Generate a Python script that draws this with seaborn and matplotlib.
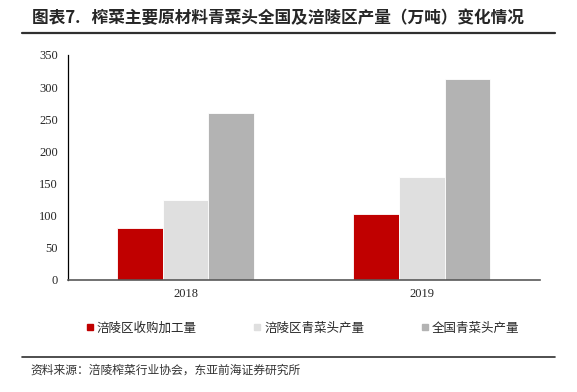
import pandas as pd
import matplotlib
matplotlib.use("Agg")
import matplotlib.pyplot as plt
import seaborn as sns
from matplotlib.lines import Line2D

years = ["2018", "2019"]
series_names = ["涪陵区收购加工量", "涪陵区青菜头产量", "全国青菜头产量"]
fuling_processed = [80, 102]
fuling_output = [124, 160]
national_output = [259, 312]
colors = ["#C00000", "#DFDFDF", "#B3B3B3"]
yticks = [0, 50, 100, 150, 200, 250, 300, 350]

title = "图表7.   榨菜主要原材料青菜头全国及涪陵区产量（万吨）变化情况"
source = "资料来源：涪陵榨菜行业协会，东亚前海证券研究所"

rows = []
for vals, name in zip([fuling_processed, fuling_output, national_output], series_names):
    for yr, v in zip(years, vals):
        rows.append({"year": yr, "series": name, "value": v})
df = pd.DataFrame(rows)

sns.set_style("white")
plt.rcParams["font.family"] = ["Noto Sans CJK SC", "DejaVu Sans"]

fig = plt.figure(figsize=(5.77, 3.92), dpi=100)
ax = fig.add_axes([0.117, 0.286, 0.819, 0.574])

sns.barplot(data=df, x="year", y="value", hue="series", palette=colors,
            saturation=1, width=0.58, edgecolor="white", linewidth=0.6,
            ax=ax, legend=False)

ax.set_ylim(0, 350)
ax.set_xlim(-0.5, 1.5)
ax.set_yticks(yticks)
ax.set_xlabel("")
ax.set_ylabel("")
for lab in ax.get_xticklabels() + ax.get_yticklabels():
    lab.set_family(["Liberation Serif"])
    lab.set_fontsize(9)
ax.tick_params(axis="y", direction="out", length=3, width=0.8, color="black", pad=4)
ax.tick_params(axis="x", length=0, pad=6)
ax.set_xticks([0.5], minor=True)
ax.tick_params(axis="x", which="minor", direction="in", length=3, width=0.8, color="#404040")
sns.despine(ax=ax, top=True, right=True)
ax.spines["left"].set_color("black")
ax.spines["left"].set_linewidth(0.9)
ax.spines["bottom"].set_color("#595959")
ax.spines["bottom"].set_linewidth(1.2)

# legend
handles = [Line2D([], [], marker="s", linestyle="", markersize=5,
                  markerfacecolor=c, markeredgecolor=c) for c in colors]
fig.legend(handles, series_names, loc="center", bbox_to_anchor=(0.525, 0.163),
           ncol=3, frameon=False, fontsize=9, handlelength=0.5,
           handletextpad=0.3, columnspacing=4.6)

# header / footer
fig.text(0.055, 0.955, title, fontsize=12, fontweight="bold", va="center", ha="left")
fig.add_artist(Line2D([0.038, 0.962], [0.915, 0.915], color="#303030", lw=1.6))
fig.add_artist(Line2D([0.038, 0.962], [0.089, 0.089], color="#303030", lw=1.2))
fig.text(0.052, 0.055, source, fontsize=8.5, va="center", ha="left", color="#333333")

fig.savefig("out.png", dpi=100)
